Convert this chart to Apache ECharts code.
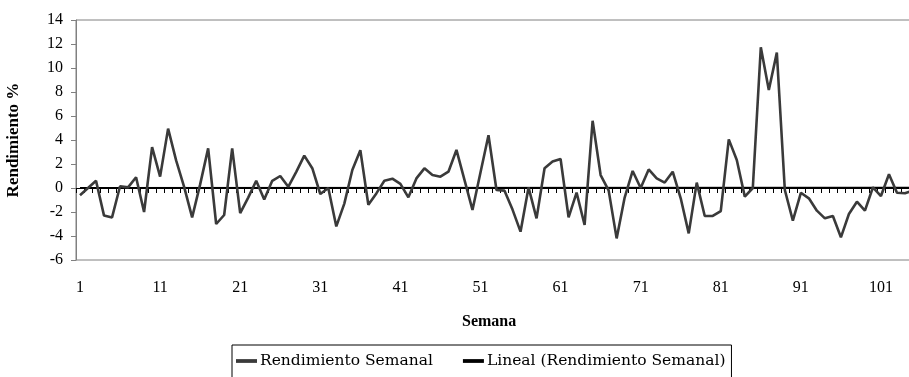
<!DOCTYPE html>
<html>
<head>
<meta charset="utf-8">
<script src="https://cdn.jsdelivr.net/npm/echarts@6/dist/echarts.min.js"></script>
<style>
  html, body { margin: 0; padding: 0; background: #fff; }
  #chart { width: 909px; height: 377px; }
</style>
</head>
<body>
<div id="chart"></div>
<script>
// Weekly returns (%) for weeks 1..105
const weeks = Array.from({ length: 105 }, (_, i) => String(i + 1));
const weeklyReturn = [
  -0.6, 0.0, 0.6, -2.3, -2.45, 0.15, 0.05, 0.9, -2.0, 3.4,
  0.95, 4.95, 2.3, 0.1, -2.45, 0.3, 3.3, -3.0, -2.25, 3.3,
  -2.1, -0.8, 0.6, -0.95, 0.6, 1.0, 0.1, 1.35, 2.7, 1.65,
  -0.5, 0.0, -3.2, -1.3, 1.5, 3.15, -1.4, -0.45, 0.6, 0.78,
  0.35, -0.78, 0.8, 1.64, 1.08, 0.94, 1.36, 3.17, 0.67, -1.83,
  1.3, 4.4, -0.17, -0.22, -1.8, -3.64, 0.05, -2.53, 1.64, 2.2,
  2.42, -2.44, -0.39, -3.08, 5.6, 1.08, -0.2, -4.2, -0.8, 1.42,
  0.0, 1.55, 0.8, 0.45, 1.36, -0.86, -3.78, 0.45, -2.33, -2.33,
  -1.92, 4.05, 2.33, -0.72, 0.0, 11.72, 8.17, 11.28, -0.17, -2.72,
  -0.4, -0.86, -1.89, -2.53, -2.33, -4.11, -2.17, -1.14, -1.89, 0.06,
  -0.67, 1.14, -0.39, -0.44, -0.2
];
// Linear trend endpoints (first and last week)
const trendEnds = [0.02, 0.04];
const yTicks = { min: -6, max: 14, step: 2 };

const serif = '"Liberation Serif", "DejaVu Serif", serif';
const legendFont = '"DejaVu Serif", "Liberation Serif", serif';
const trendData = weeks.map((_, i) =>
  i === 0 ? trendEnds[0] : (i === weeks.length - 1 ? trendEnds[1] : null));

const chart = echarts.init(document.getElementById('chart'), null, { renderer: 'canvas' });
chart.setOption({
  animation: false,
  backgroundColor: '#fff',
  textStyle: { fontFamily: serif, color: '#000' },
  grid: {
    left: 76, top: 20, bottom: 117, right: -8,
    containLabel: false,
    outerBoundsMode: 'none',
    show: true, borderColor: '#808080', borderWidth: 1, backgroundColor: 'transparent'
  },
  legend: {
    top: 345,
    left: 232,
    itemGap: 30,
    itemWidth: 21,
    itemHeight: 12,
    padding: [8, 6, 20, 4],
    borderColor: '#000',
    borderWidth: 1,
    textStyle: { fontFamily: legendFont, fontSize: 15.5, color: '#000', padding: [0, 0, 0, -2] },
    data: [
      { name: 'Rendimiento Semanal', icon: 'path://M0,0 L1,0 L1,0.18 L0,0.18 Z', itemStyle: { color: '#3a3a3a' } },
      { name: 'Lineal (Rendimiento Semanal)', icon: 'path://M0,0 L1,0 L1,0.18 L0,0.18 Z', itemStyle: { color: '#000' } }
    ]
  },
  xAxis: [
    {
      type: 'category',
      data: weeks,
      boundaryGap: true,
      axisLine: { onZero: true, lineStyle: { color: '#000', width: 1 } },
      axisTick: { show: true, interval: 0, length: 5, lineStyle: { color: '#000', width: 1 } },
      axisLabel: { show: false },
      splitLine: { show: false }
    },
    {
      type: 'category',
      data: weeks,
      boundaryGap: true,
      position: 'bottom',
      axisLine: { show: false, onZero: false },
      axisTick: { show: false },
      axisLabel: { interval: 9, fontSize: 16, margin: 20, color: '#000', fontFamily: serif },
      splitLine: { show: false }
    }
  ],
  yAxis: {
    type: 'value',
    min: yTicks.min, max: yTicks.max, interval: yTicks.step,
    name: 'Rendimiento %',
    nameLocation: 'middle',
    nameGap: 54,
    nameRotate: 90,
    nameTextStyle: { fontFamily: serif, fontSize: 17, fontWeight: 'bold', color: '#000' },
    axisLine: { show: true, lineStyle: { color: '#808080', width: 1 } },
    axisTick: { show: true, length: 5, lineStyle: { color: '#808080' } },
    axisLabel: { fontSize: 16, margin: 13, color: '#000', fontFamily: serif },
    splitLine: { show: false }
  },
  graphic: [
    {
      type: 'text', left: 462, top: 314,
      style: { text: 'Semana', fontFamily: serif, fontSize: 16, fontWeight: 'bold', fill: '#000' }
    }
  ],
  series: [
    {
      name: 'Rendimiento Semanal',
      type: 'line',
      xAxisIndex: 0,
      data: weeklyReturn,
      showSymbol: false,
      symbol: 'none',
      lineStyle: { color: '#3a3a3a', width: 2.6 },
      itemStyle: { color: '#3a3a3a' },
      z: 3
    },
    {
      name: 'Lineal (Rendimiento Semanal)',
      type: 'line',
      xAxisIndex: 0,
      data: trendData,
      connectNulls: true,
      showSymbol: false,
      symbol: 'none',
      lineStyle: { color: '#000', width: 1.5 },
      itemStyle: { color: '#000' },
      z: 2
    }
  ]
});
</script>
</body>
</html>
